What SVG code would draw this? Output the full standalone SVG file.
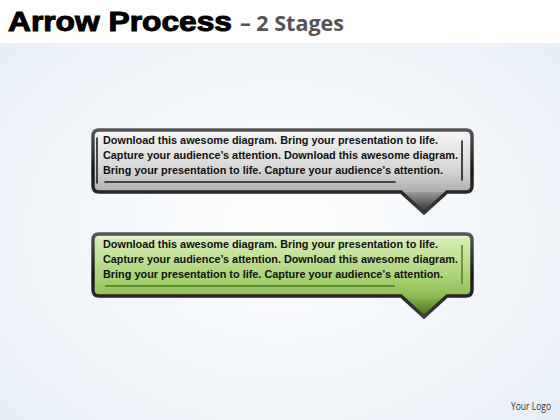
<svg xmlns="http://www.w3.org/2000/svg" width="560" height="420" viewBox="0 0 560 420">
<defs>
<radialGradient id="bg" cx="50%" cy="55%" r="70%">
<stop offset="0" stop-color="#ffffff"/>
<stop offset="1" stop-color="#e6eef6"/>
</radialGradient>
<linearGradient id="gray" x1="0" y1="0" x2="0" y2="1">
<stop offset="0" stop-color="#f6f6f6"/>
<stop offset="0.5" stop-color="#d4d4d4"/>
<stop offset="1" stop-color="#858585"/>
</linearGradient>
<linearGradient id="green" x1="0" y1="0" x2="0" y2="1">
<stop offset="0" stop-color="#dcf0bd"/>
<stop offset="0.5" stop-color="#acd477"/>
<stop offset="1" stop-color="#72a536"/>
</linearGradient>
<linearGradient id="ptrGray" x1="0" y1="0" x2="0" y2="1">
<stop offset="0" stop-color="#9a9a9a"/>
<stop offset="1" stop-color="#2a2a2a"/>
</linearGradient>
<linearGradient id="ptrGreen" x1="0" y1="0" x2="0" y2="1">
<stop offset="0" stop-color="#8fbd52"/>
<stop offset="1" stop-color="#3f6a18"/>
</linearGradient>
<linearGradient id="rim" x1="0" y1="0" x2="0" y2="1">
<stop offset="0" stop-color="#555"/>
<stop offset="0.5" stop-color="#151515"/>
<stop offset="1" stop-color="#3a3a3a"/>
</linearGradient>
<path id="shape" d="M 99,130 H 466 Q 472,130 472,136 V 186 Q 472,192 466,192 H 447 L 424,213 L 401,192 H 99 Q 93,192 93,186 V 136 Q 93,130 99,130 Z"/>
</defs>
<style>
.body{font-family:"Liberation Sans",Arial,sans-serif;font-weight:bold;font-size:11px;fill:#111}
.rim{fill:none;stroke:url(#rim);stroke-width:3.4}
.hl{fill:none;stroke:#ffffff;stroke-opacity:0.75;stroke-width:1}
.inner{stroke:#1e1e1e;stroke-width:1.6;fill:none;stroke-linecap:round}
</style>
<rect x="0" y="0" width="560" height="420" fill="url(#bg)"/>
<rect x="0" y="0" width="560" height="43" fill="#ffffff"/>
<g id="title">
<text x="8" y="31" font-family="'Liberation Sans',Arial,sans-serif" font-weight="900" font-size="27" fill="#000" textLength="224" lengthAdjust="spacingAndGlyphs" stroke="#000" stroke-width="1">Arrow Process</text>
<text x="240" y="31" font-family="'Open Sans','Liberation Sans',sans-serif" font-weight="bold" font-size="21" fill="#555" textLength="104" lengthAdjust="spacingAndGlyphs">– 2 Stages</text>
</g>
<g id="stage1">
<use href="#shape" fill="url(#gray)"/>
<path d="M 401,192 L 447,192 L 424,213 Z" fill="url(#ptrGray)"/>
<use href="#shape" class="rim"/>
<path d="M 98,133 H 467" class="hl"/>
<path d="M 105,182 H 395" class="inner"/>
<path d="M 462,141 V 180" class="inner"/>
<path d="M 97,138 V 183" class="inner" stroke-width="1"/>
<text class="body" x="103" y="144" textLength="335" lengthAdjust="spacingAndGlyphs">Download this awesome diagram. Bring your presentation to life.</text>
<text class="body" x="103" y="159" textLength="355" lengthAdjust="spacingAndGlyphs">Capture your audience’s attention. Download this  awesome diagram.</text>
<text class="body" x="103" y="174" textLength="340" lengthAdjust="spacingAndGlyphs">Bring your presentation to life. Capture your audience’s attention.</text>
</g>
<g id="stage2" transform="translate(0,104)">
<use href="#shape" fill="url(#green)"/>
<path d="M 401,192 L 447,192 L 424,213 Z" fill="url(#ptrGreen)"/>
<use href="#shape" class="rim"/>
<path d="M 98,133 H 467" class="hl"/>
<path d="M 105,182 H 395" stroke="#4c7a20" stroke-width="1.4" fill="none"/>
<path d="M 462,141 V 180" stroke="#4c7a20" stroke-width="1.4" fill="none"/>
<text class="body" x="103" y="144" textLength="335" lengthAdjust="spacingAndGlyphs">Download this awesome diagram. Bring your presentation to life.</text>
<text class="body" x="103" y="159" textLength="355" lengthAdjust="spacingAndGlyphs">Capture your audience’s attention. Download this  awesome diagram.</text>
<text class="body" x="103" y="174" textLength="340" lengthAdjust="spacingAndGlyphs">Bring your presentation to life. Capture your audience’s attention.</text>
</g>
<g id="logo">
<text x="511" y="410" font-family="'Open Sans','Liberation Sans',sans-serif" font-size="10.5" fill="#333" textLength="40" lengthAdjust="spacingAndGlyphs">Your Logo</text>
</g>
</svg>
